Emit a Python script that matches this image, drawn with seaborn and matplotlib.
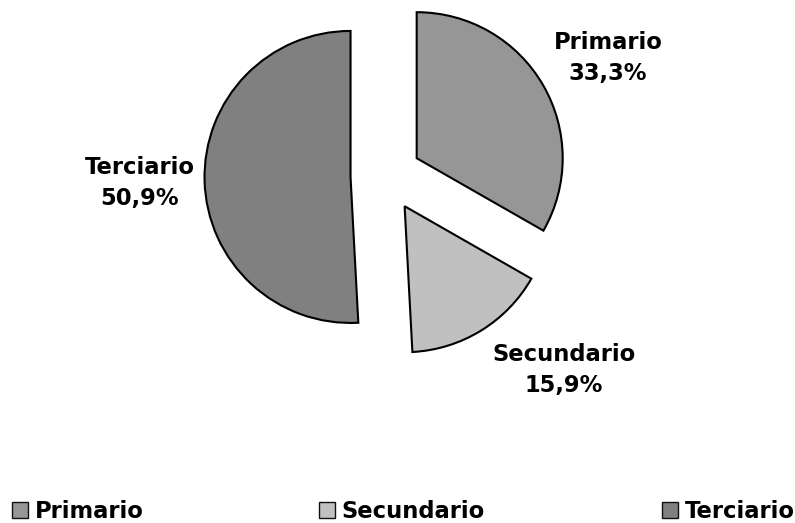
import matplotlib
matplotlib.use("Agg")
import matplotlib.pyplot as plt
import seaborn as sns
from matplotlib.patches import Patch

sns.set_theme(style="white")
plt.rcParams['font.family'] = ['DejaVu Sans']
plt.rcParams['text.color'] = 'black'

categories = ["Primario", "Secundario", "Terciario"]
shares = [33.3, 15.9, 50.9]
colors = ["#969696", "#C0C0C0", "#808080"]
explode = [0.243, 0.243, 0.243]

W, H, dpi = 795, 523, 100
fig = plt.figure(figsize=(W / dpi, H / dpi), dpi=dpi)
fig.patch.set_facecolor("white")
ax = fig.add_axes([0, 0, 1, 1])

wedges, _ = ax.pie(shares, colors=colors, explode=explode, startangle=90,
                   counterclock=False, radius=1.0,
                   wedgeprops=dict(edgecolor="black", linewidth=1.5))

# pixel geometry: centre at (386,176), radius 146 px
cx, cy, r = 386, 176, 146
ax.set_xlim(-cx / r, (W - cx) / r)
ax.set_ylim(-(H - cy) / r, cy / r)
ax.set_aspect("equal")
ax.axis("off")

label_pos = {"Primario": (1.52, 0.81), "Secundario": (1.22, -1.33), "Terciario": (-1.685, -0.05)}
for cat, val in zip(categories, shares):
    x, y = label_pos[cat]
    ax.text(x, y, f"{cat}\n{val:.1f}%".replace(".", ","), ha="center", va="center",
            fontsize=16.3, fontweight="bold", linespacing=1.45, color="black")

leg_x = [12, 319, 662]
for cat, col, lx in zip(categories, colors, leg_x):
    h = Patch(facecolor=col, edgecolor="#111111", linewidth=1.0)
    fig.legend([h], [cat], loc="center left", bbox_to_anchor=(lx / W, 11.5 / H),
               frameon=False, handlelength=0.7, handleheight=0.7,
               handletextpad=0.3, borderpad=0, borderaxespad=0,
               labelcolor="black", prop=dict(weight="bold", size=16.3))

fig.savefig("out.png", dpi=dpi, facecolor="white")
